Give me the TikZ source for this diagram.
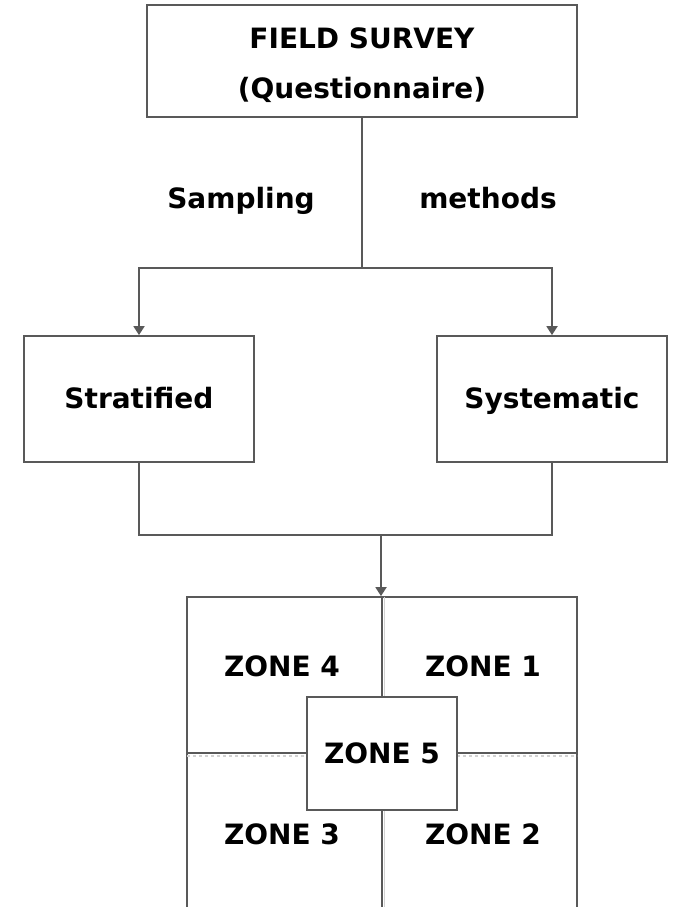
\documentclass[tikz,border=0pt]{standalone}
\usepackage{fontspec}
\setmainfont{DejaVu Sans}
\usetikzlibrary{arrows.meta}

\begin{document}
\begin{tikzpicture}[x=1pt,y=1pt]

    \tikzset{
      box/.style={
        draw=black!65,
        line width=1.8pt,
        fill=white,
        inner sep=0pt,
      },
      txt/.style={
        font=\fontsize{28}{50}\selectfont\bfseries,
        text=black,
        align=center,
      },
      word/.style={
        txt,
        text height=21pt,
        text depth=6pt,
        yshift=-2pt,
      },
      link/.style={
        draw=black!65,
        line width=1.8pt,
      },
      arr/.style={
        link,
        -{Triangle[width=11pt,length=9pt]},
      },
    }

	\clip (0,0) rectangle (672,-907);
	\fill[white] (0,0) rectangle (672,-907);

	% boxes
	\node[box,minimum width=430,minimum height=112] (survey) at (362,-61) {};
	\node[box,minimum width=230,minimum height=126] (strat) at (139,-399) {};
	\node[box,minimum width=230,minimum height=126] (syst) at (552,-399) {};
	\node[box,minimum width=390,minimum height=312] (zones) at (382,-753) {};

	% lines inside the zone square
	\draw[gray!35,line width=1.2pt] (384.5,-597)--(384.5,-909);
	\draw[gray!35,line width=1.2pt,dashed] (187,-756)--(577,-756);
	\draw[link] (zones.north)--(zones.south);
	\draw[link] (zones.west)--(zones.east);
	\node[box,minimum width=150,minimum height=113] (zone5) at (382,-753.5) {};

	% texts
	\node[txt] (title) at (362,-65) {FIELD SURVEY\\(Questionnaire)};
	\node[word] (sampling) at (241,-199) {Sampling};
	\node[word] (methods) at (488,-199) {methods};
	\node[word] (stratlbl) at (strat) {Stratified};
	\node[word] (systlbl) at (syst) {Systematic};
	\node[word] (z4) at (282,-667) {ZONE 4};
	\node[word] (z1) at (483,-667) {ZONE 1};
	\node[word] (z3) at (282,-835) {ZONE 3};
	\node[word] (z2) at (483,-835) {ZONE 2};
	\node[word] (z5lbl) at (zone5) {ZONE 5};

	% connectors
	\coordinate (split) at (362,-268);
	\coordinate (join) at (381,-535);
	\draw[link] (survey.south)--(split);
	\draw[arr] (split)-|(strat.north);
	\draw[arr] (split)-|(syst.north);
	\draw[link] (strat.south)|-(join);
	\draw[link] (syst.south)|-(join);
	\draw[arr] (join)--(join|-zones.north);

\end{tikzpicture}
\end{document}
